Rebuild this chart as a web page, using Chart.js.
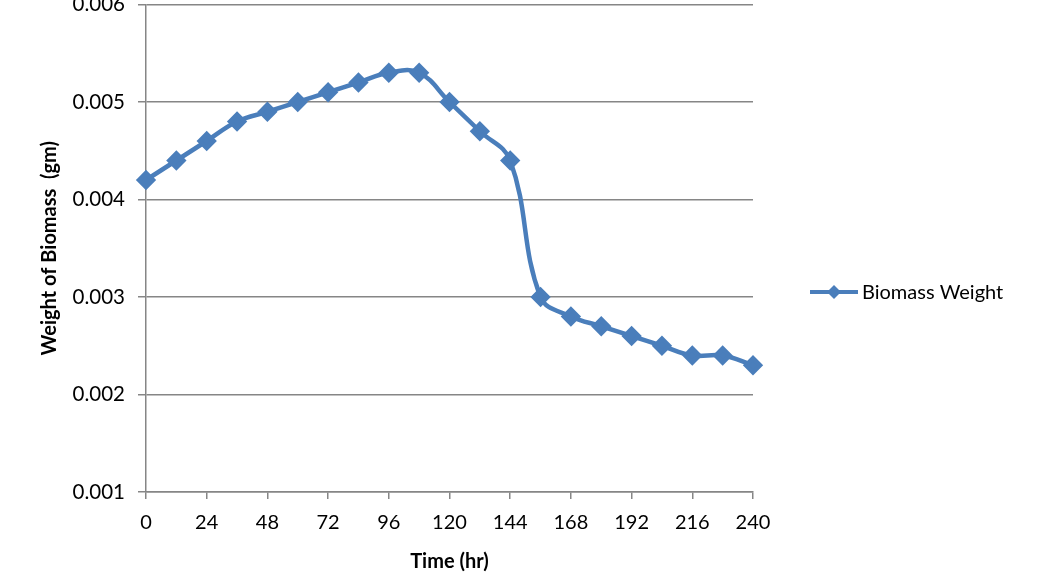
<!DOCTYPE html>
<html>
<head>
<meta charset="utf-8">
<script src="https://cdn.jsdelivr.net/npm/chart.js@4.4.0/dist/chart.umd.min.js"></script>
<style>
  body { margin: 0; background: #fff; overflow: hidden; }
  #wrap { width: 1038px; height: 576px; position: relative; overflow: hidden; }
  #chart { position: absolute; left: 0; top: -7px; }
</style>
</head>
<body>
<div id="wrap"><canvas id="chart" width="1038" height="583"></canvas></div>
<script>
// dados
const horas = [0, 12, 24, 36, 48, 60, 72, 84, 96, 108, 120, 132, 144, 156, 168, 180, 192, 204, 216, 228, 240]
const biomassa = [0.0042, 0.0044, 0.0046, 0.0048, 0.0049, 0.0050, 0.0051, 0.0052, 0.0053, 0.0053, 0.0050, 0.0047, 0.0044, 0.0030, 0.0028, 0.0027, 0.0026, 0.0025, 0.0024, 0.0024, 0.0023]
const nomeSerie = 'Biomass Weight'
const tituloX = 'Time (hr)'
const tituloY = 'Weight of Biomass  (gm)'

const azul = '#4a7ebb'
const cinza = '#868686'
const fonte = 'Lato, "Open Sans", sans-serif'

const pontos = horas.map((h, i) => ({ x: h, y: biomassa[i] }))

// legenda desenhada à direita (linha + losango + texto)
const legendaDireita = {
    id: 'legendaDireita',
    afterDraw(chart) {
        const c = chart.ctx
        const yMeio = 299
        c.save()
        c.strokeStyle = azul
        c.lineWidth = 4
        c.beginPath()
        c.moveTo(810, yMeio)
        c.lineTo(858, yMeio)
        c.stroke()
        c.fillStyle = azul
        c.beginPath()
        c.moveTo(834, yMeio - 7)
        c.lineTo(841, yMeio)
        c.lineTo(834, yMeio + 7)
        c.lineTo(827, yMeio)
        c.closePath()
        c.fill()
        c.fillStyle = '#000'
        c.font = '20px ' + fonte
        c.textBaseline = 'middle'
        c.fillText(nomeSerie, 862, yMeio + 1)
        c.restore()
    }
}

let ctx = document.getElementById('chart')
let chart = new Chart(ctx, {
    type: 'line',
    data: {
        datasets: [{
            label: nomeSerie,
            data: pontos,
            borderColor: azul,
            backgroundColor: azul,
            borderWidth: 4.5,
            tension: 0.4,
            pointStyle: 'rectRot',
            pointRadius: 7,
            pointBackgroundColor: azul,
            pointBorderColor: azul,
            clip: false
        }]
    },
    options: {
        responsive: false,
        animation: false,
        layout: { padding: { left: 0, right: 285, top: 5, bottom: 0 } },
        plugins: {
            legend: { display: false },
            tooltip: { enabled: false }
        },
        scales: {
            x: {
                type: 'linear',
                min: 0,
                max: 240,
                border: { color: cinza, width: 1.5 },
                grid: { display: true, drawOnChartArea: false, drawTicks: true, tickLength: 7, color: cinza, lineWidth: 1.5 },
                ticks: { stepSize: 24, color: '#000', font: { family: fonte, size: 20 }, padding: 12, maxRotation: 0 },
                title: { display: true, text: tituloX, color: '#000', font: { family: fonte, size: 20, weight: 'bold' }, padding: { top: 0, bottom: 2 } },
                afterFit: (s) => { s.height = 84; s.paddingLeft = 0; s.paddingRight = 0 }
            },
            y: {
                min: 0.001,
                max: 0.006,
                border: { color: cinza, width: 1.5 },
                grid: { color: cinza, lineWidth: 1.5, tickLength: 8 },
                ticks: { stepSize: 0.001, color: '#000', font: { family: fonte, size: 20.5 }, padding: 13,
                    callback: (v) => v.toFixed(3) },
                title: { display: true, text: tituloY, color: '#000', font: { family: fonte, size: 20, weight: 'bold' }, padding: { top: 38, bottom: 0 } },
                afterFit: (s) => { s.width = 146; s.paddingTop = 0; s.paddingBottom = 0 }
            }
        }
    },
    plugins: [legendaDireita]
})
</script>
</body>
</html>
